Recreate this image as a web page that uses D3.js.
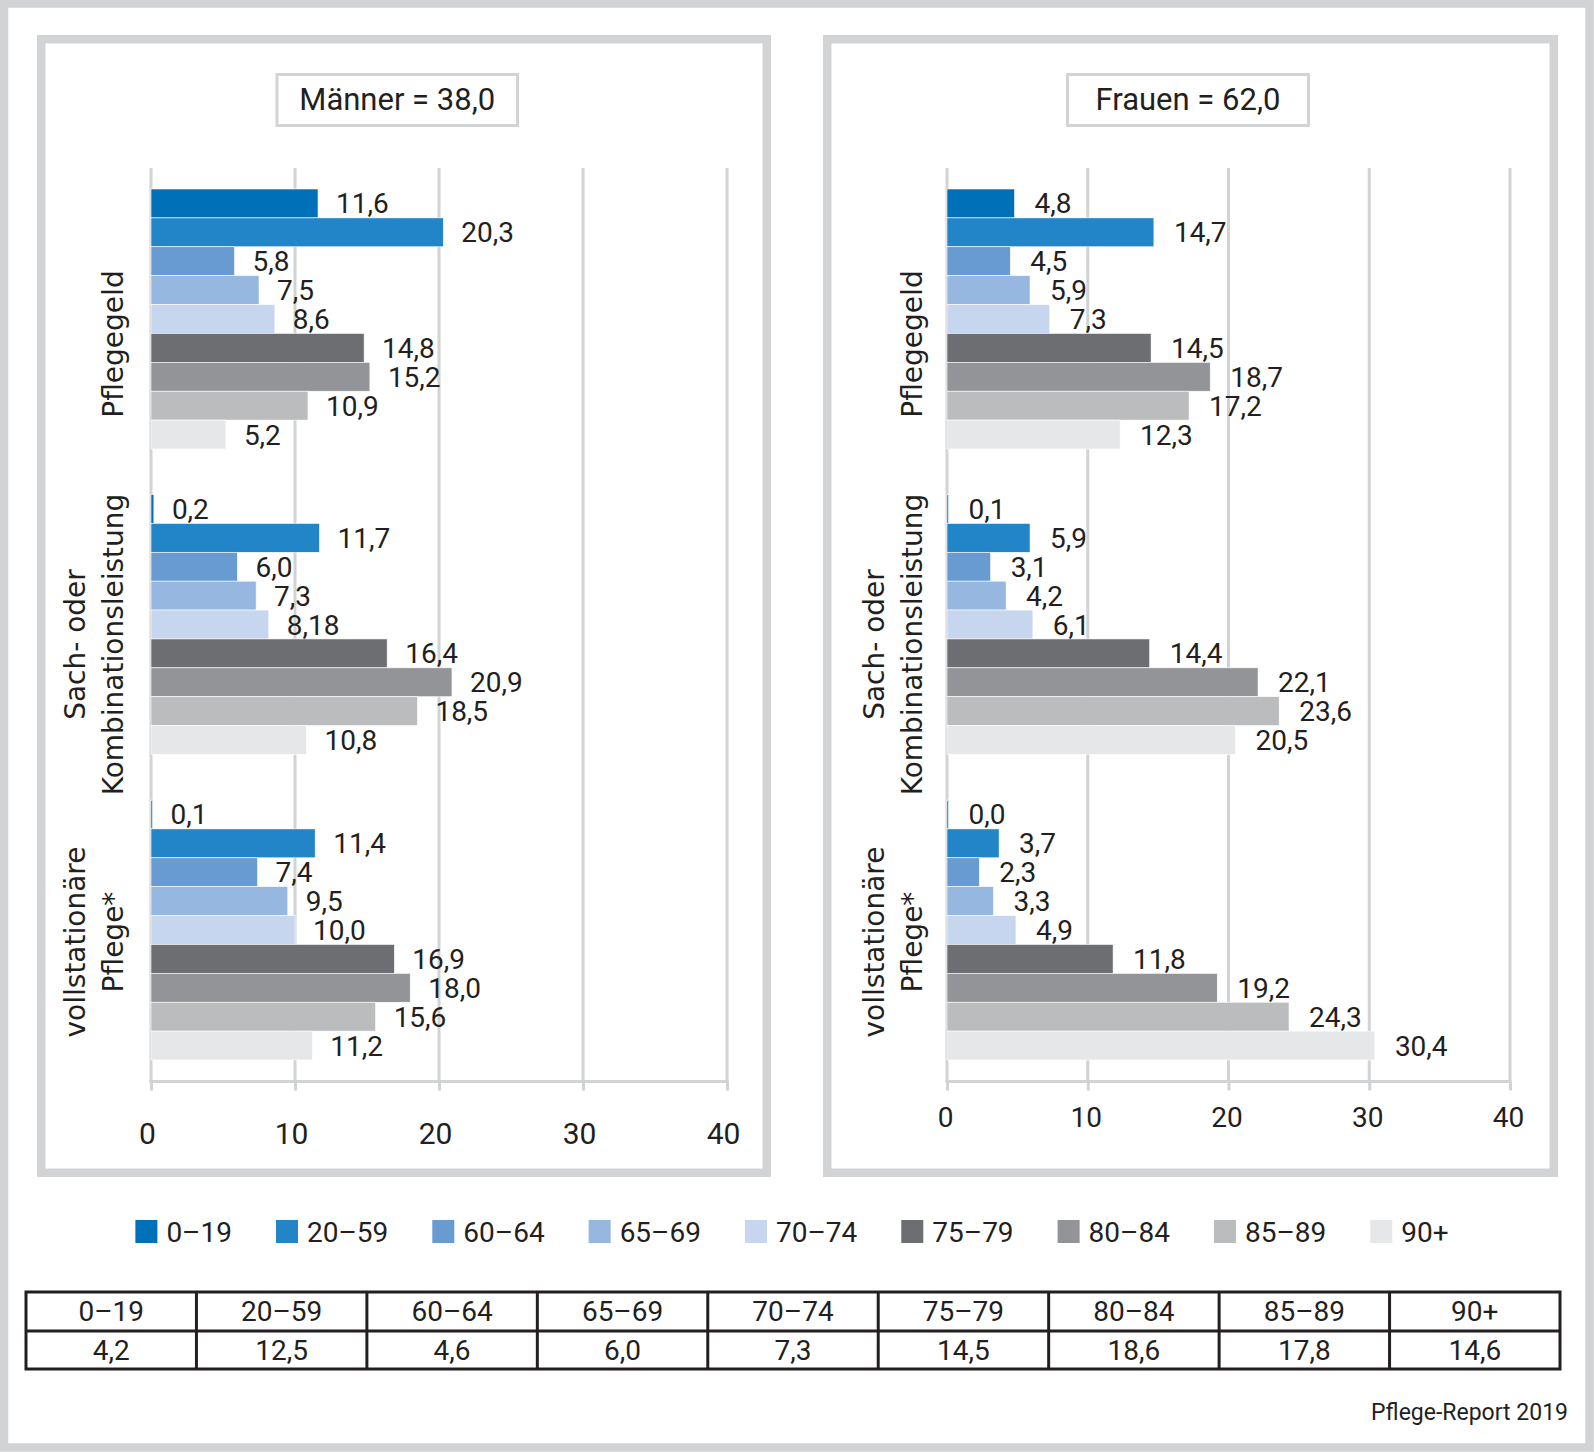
<!DOCTYPE html>
<html>
<head>
<meta charset="utf-8">
<script src="https://cdn.jsdelivr.net/npm/d3@7"></script>
<style>
  html, body { margin: 0; padding: 0; background: #fff; }
  svg { display: block; }
</style>
</head>
<body>
<svg id="chart" width="1594" height="1452"></svg>
<script>
// ---------------- DATA ----------------
const ageGroups = ["0–19", "20–59", "60–64", "65–69", "70–74", "75–79", "80–84", "85–89", "90+"];
const categories = ["Pflegegeld", "Sach- oder\nKombinationsleistung", "vollstationäre\nPflege*"];
const panelNames = ["Männer", "Frauen"];
const panelTotals = [38.0, 62.0];
const maennerValues = [
  [11.6, 20.3, 5.8, 7.5, 8.6, 14.8, 15.2, 10.9, 5.2],
  [0.2, 11.7, 6.0, 7.3, 8.18, 16.4, 20.9, 18.5, 10.8],
  [0.1, 11.4, 7.4, 9.5, 10.0, 16.9, 18.0, 15.6, 11.2]
];
const frauenValues = [
  [4.8, 14.7, 4.5, 5.9, 7.3, 14.5, 18.7, 17.2, 12.3],
  [0.1, 5.9, 3.1, 4.2, 6.1, 14.4, 22.1, 23.6, 20.5],
  [0.0, 3.7, 2.3, 3.3, 4.9, 11.8, 19.2, 24.3, 30.4]
];
const xTicks = [0, 10, 20, 30, 40];
const tableValues = [4.2, 12.5, 4.6, 6.0, 7.3, 14.5, 18.6, 17.8, 14.6];
const sourceText = "Pflege-Report 2019";

// ---------------- STYLE ----------------
const colors = ["#0071b9", "#2185c7", "#679bd2", "#95b7e0", "#c7d6ef", "#6d6e72", "#939497", "#bbbcbe", "#e6e7e8"];
const frameGray = "#d1d3d4";
const textColor = "#231f20";
const mainFont = "Roboto, 'Liberation Sans', sans-serif";
const catFont = "'DejaVu Sans', Verdana, sans-serif";

const fmt = v => {
  const s = (Math.round(v * 100) % 10 === 0) ? v.toFixed(1) : v.toFixed(2);
  return s.replace(".", ",");
};

const svg = d3.select("#chart");
const W = 1594, H = 1452;

// outer frame
svg.append("rect").attr("x", 4).attr("y", 3.5).attr("width", W - 8.5).attr("height", H - 8)
  .attr("fill", "#fff").attr("stroke", frameGray).attr("stroke-width", 8.5);

// panel layouts
const panels = [
  { values: maennerValues, frame: [37, 35, 771, 1177], x0: 151, x1: 727,
    titleBox: [275.5, 73, 519, 127], tickSize: 30, tickY: 1144, tickDx: -4, labelGap: 18, catBase: 123 },
  { values: frauenValues, frame: [823, 35, 1558, 1177], x0: 947, x1: 1510,
    titleBox: [1066, 73, 1310, 127], tickSize: 28, tickY: 1127, tickDx: -2, labelGap: 20, catBase: 922 }
];
const plotTop = 167, plotBottom = 1082;
const catShift = [25, 20, 12];

panels.forEach((p, pi) => {
  const g = svg.append("g");
  const [fx0, fy0, fx1, fy1] = p.frame;
  const sw = 8.5;
  g.append("rect")
    .attr("x", fx0 + sw / 2).attr("y", fy0 + sw / 2)
    .attr("width", fx1 - fx0 - sw).attr("height", fy1 - fy0 - sw)
    .attr("fill", "#fff").attr("stroke", frameGray).attr("stroke-width", sw);

  // title box
  const [bx0, by0, bx1, by1] = p.titleBox;
  g.append("rect").attr("x", bx0 + 1.5).attr("y", by0 + 1.5)
    .attr("width", bx1 - bx0 - 3).attr("height", by1 - by0 - 3)
    .attr("fill", "#fff").attr("stroke", frameGray).attr("stroke-width", 3);
  g.append("text").attr("x", (bx0 + bx1) / 2).attr("y", 110)
    .attr("text-anchor", "middle").attr("font-family", mainFont).attr("font-size", 31)
    .attr("fill", textColor)
    .text(panelNames[pi] + " = " + fmt(panelTotals[pi]));

  const x = d3.scaleLinear().domain([0, 40]).range([p.x0, p.x1]);
  const yBand = d3.scaleBand().domain(d3.range(categories.length))
    .range([plotTop, plotBottom]).paddingInner(0.149).paddingOuter(0.072);
  const yInner = d3.scaleBand().domain(d3.range(ageGroups.length))
    .range([0, yBand.bandwidth()]);

  // gridlines
  g.selectAll("line.grid").data(xTicks).join("line")
    .attr("x1", d => x(d)).attr("x2", d => x(d))
    .attr("y1", plotTop + 1).attr("y2", plotBottom)
    .attr("stroke", frameGray).attr("stroke-width", 3);

  // axis
  const axis = d3.axisBottom(x).tickValues(xTicks).tickSize(9).tickPadding(0).tickFormat(d => d);
  const ax = g.append("g").attr("transform", `translate(0,${plotBottom - 0.5})`).call(axis);
  ax.select(".domain").attr("stroke", frameGray).attr("stroke-width", 3)
    .attr("d", `M${x(0) - 1.5},0H${x(40) + 1.5}`);
  ax.selectAll(".tick line").attr("stroke", frameGray).attr("stroke-width", 3);
  ax.selectAll(".tick text")
    .attr("y", p.tickY - plotBottom + 0.5).attr("dy", 0).attr("dx", p.tickDx)
    .attr("font-family", mainFont).attr("font-size", p.tickSize).attr("fill", textColor);

  // bars
  categories.forEach((cat, ci) => {
    const gy = yBand(ci);
    const vals = p.values[ci];
    g.selectAll(null).data(vals).join("rect")
      .attr("x", x(0))
      .attr("y", (d, i) => gy + yInner(i))
      .attr("width", d => Math.max(x(d) - x(0), 1.5))
      .attr("height", yInner.bandwidth())
      .attr("fill", (d, i) => colors[i])
      .attr("stroke", "#fff").attr("stroke-width", 0.6);
    g.selectAll(null).data(vals).join("text")
      .attr("x", d => Math.max(x(d), x(0) + 1.5) + p.labelGap)
      .attr("y", (d, i) => gy + yInner(i) + yInner.bandwidth() / 2 + 10)
      .attr("font-family", mainFont).attr("font-size", 28).attr("fill", textColor)
      .text(d => fmt(d));

    // category label (rotated)
    const lines = cat.split("\n");
    const cy = gy + yBand.bandwidth() / 2 + catShift[ci];
    lines.forEach((ln, li) => {
      const bx = p.catBase - (lines.length - 1 - li) * 38;
      g.append("text")
        .attr("transform", `translate(${bx},${cy}) rotate(-90)`)
        .attr("text-anchor", "middle")
        .attr("font-family", catFont).attr("font-size", 28).attr("fill", textColor)
        .text(ln);
    });
  });
});

// ---------------- LEGEND ----------------
const legend = svg.append("g");
const swW = 22, swH = 23, swGap = 9, itemGap = 44;
const legendItems = legend.selectAll("g").data(ageGroups).join("g");
legendItems.append("rect").attr("width", swW).attr("height", swH).attr("y", 1220)
  .attr("fill", (d, i) => colors[i]);
legendItems.append("text").attr("x", swW + swGap).attr("y", 1242)
  .attr("font-family", mainFont).attr("font-size", 28).attr("fill", textColor)
  .text(d => d);
let widths = [];
legendItems.each(function () {
  widths.push(swW + swGap + d3.select(this).select("text").node().getComputedTextLength());
});
const total = d3.sum(widths) + itemGap * (widths.length - 1);
let lx = 792 - total / 2;
legendItems.attr("transform", (d, i) => {
  const t = `translate(${lx},0)`;
  lx += widths[i] + itemGap;
  return t;
});

// ---------------- TABLE ----------------
const tbl = svg.append("g");
const tx = d3.scaleBand().domain(d3.range(ageGroups.length)).range([26, 1560]);
const rowY = [1292, 1331, 1369];
tbl.append("rect").attr("x", tx.range()[0]).attr("y", rowY[0])
  .attr("width", tx.range()[1] - tx.range()[0]).attr("height", rowY[2] - rowY[0])
  .attr("fill", "none").attr("stroke", textColor).attr("stroke-width", 3);
tbl.append("line").attr("x1", tx.range()[0]).attr("x2", tx.range()[1])
  .attr("y1", rowY[1]).attr("y2", rowY[1]).attr("stroke", textColor).attr("stroke-width", 3);
tbl.selectAll("line.v").data(d3.range(1, ageGroups.length)).join("line")
  .attr("x1", d => tx(d)).attr("x2", d => tx(d))
  .attr("y1", rowY[0]).attr("y2", rowY[2])
  .attr("stroke", textColor).attr("stroke-width", 3);
tbl.selectAll("text.h").data(ageGroups).join("text")
  .attr("x", (d, i) => tx(i) + tx.bandwidth() / 2).attr("y", 1321)
  .attr("text-anchor", "middle").attr("font-family", mainFont).attr("font-size", 28)
  .attr("fill", textColor).text(d => d);
tbl.selectAll("text.v").data(tableValues).join("text")
  .attr("x", (d, i) => tx(i) + tx.bandwidth() / 2).attr("y", 1360)
  .attr("text-anchor", "middle").attr("font-family", mainFont).attr("font-size", 28)
  .attr("fill", textColor).text(d => fmt(d));

// source
svg.append("text").attr("x", 1568).attr("y", 1420).attr("text-anchor", "end")
  .attr("font-family", mainFont).attr("font-size", 23).attr("fill", textColor)
  .text(sourceText);
</script>
</body>
</html>
